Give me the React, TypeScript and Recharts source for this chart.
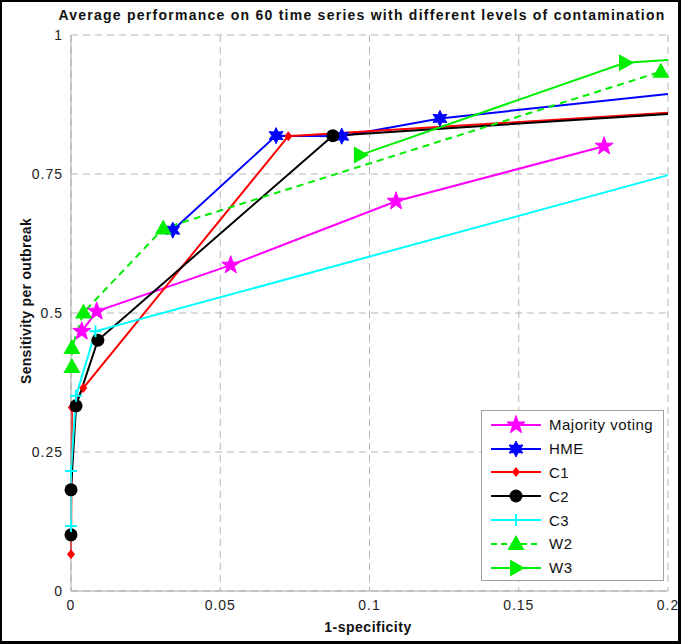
import React from 'react';
import { LineChart, Line, XAxis, YAxis, CartesianGrid } from 'recharts';

// axis ticks
const xTicks = [0, 0.05, 0.1, 0.15, 0.2];
const yTicks = [0, 0.25, 0.5, 0.75, 1];
const X_MAX = 0.2;

// ROC points (1-specificity, sensitivity)
const majorityVoting = [
  { x: 0.0036, y: 0.467 },
  { x: 0.0086, y: 0.503 },
  { x: 0.0535, y: 0.586 },
  { x: 0.1089, y: 0.701 },
  { x: 0.1786, y: 0.8 },
];
const hme = [
  { x: 0.0341, y: 0.649 },
  { x: 0.0687, y: 0.819 },
  { x: 0.0907, y: 0.818 },
  { x: 0.1236, y: 0.85 },
  { x: 0.2, y: 0.894 },
];
const c1 = [
  { x: 0, y: 0.066 },
  { x: 0.0003, y: 0.33 },
  { x: 0.0041, y: 0.365 },
  { x: 0.0728, y: 0.818 },
  { x: 0.2, y: 0.86 },
];
const c2 = [
  { x: 0, y: 0.101 },
  { x: 0, y: 0.182 },
  { x: 0.0017, y: 0.333 },
  { x: 0.009, y: 0.451 },
  { x: 0.0877, y: 0.819 },
  { x: 0.2, y: 0.858 },
];
const c3 = [
  { x: 0, y: 0.117 },
  { x: 0, y: 0.216 },
  { x: 0.0017, y: 0.351 },
  { x: 0.0082, y: 0.467 },
  { x: 0.2, y: 0.748 },
];
const w2 = [
  { x: 0.0003, y: 0.403 },
  { x: 0.0003, y: 0.437 },
  { x: 0.0042, y: 0.501 },
  { x: 0.0309, y: 0.652 },
  { x: 0.1976, y: 0.934 },
];
const w3 = [
  { x: 0.0968, y: 0.784 },
  { x: 0.1856, y: 0.95 },
  { x: 0.2, y: 0.955 },
];

type Shape = 'star' | 'hexagram' | 'diamond' | 'circle' | 'plus' | 'triUp' | 'triRight';

const series: { name: string; data: { x: number; y: number }[]; color: string; shape: Shape; dashed?: boolean }[] = [
  { name: 'Majority voting', data: majorityVoting, color: '#ff00ff', shape: 'star' },
  { name: 'HME', data: hme, color: '#0000ff', shape: 'hexagram' },
  { name: 'C1', data: c1, color: '#ff0000', shape: 'diamond' },
  { name: 'C2', data: c2, color: '#000000', shape: 'circle' },
  { name: 'C3', data: c3, color: '#00ffff', shape: 'plus' },
  { name: 'W2', data: w2, color: '#00ee00', shape: 'triUp', dashed: true },
  { name: 'W3', data: w3, color: '#00ee00', shape: 'triRight' },
];

const FONT = '"Liberation Sans", Arial, sans-serif';

function starPoints(cx: number, cy: number, n: number, ro: number, ri: number) {
  const pts: string[] = [];
  for (let i = 0; i < n * 2; i++) {
    const r = i % 2 === 0 ? ro : ri;
    const a = -Math.PI / 2 + (i * Math.PI) / n;
    pts.push(`${cx + r * Math.cos(a)},${cy + r * Math.sin(a)}`);
  }
  return pts.join(' ');
}

function Marker({ shape, cx, cy, color }: { shape: Shape; cx: number; cy: number; color: string }) {
  switch (shape) {
    case 'star':
      return <polygon points={starPoints(cx, cy, 5, 9.5, 3.8)} fill={color} stroke={color} strokeWidth={1} />;
    case 'hexagram':
      return <polygon points={starPoints(cx, cy, 6, 8, 4.2)} fill={color} stroke={color} strokeWidth={1} />;
    case 'diamond':
      return <polygon points={`${cx},${cy - 5} ${cx + 4},${cy} ${cx},${cy + 5} ${cx - 4},${cy}`} fill={color} />;
    case 'circle':
      return <circle cx={cx} cy={cy} r={6.5} fill={color} />;
    case 'plus':
      return <path d={`M${cx - 6},${cy}H${cx + 6}M${cx},${cy - 6}V${cy + 6}`} stroke={color} strokeWidth={2} />;
    case 'triUp':
      return <polygon points={`${cx},${cy - 9} ${cx + 8.5},${cy + 6} ${cx - 8.5},${cy + 6}`} fill={color} />;
    case 'triRight':
      return <polygon points={`${cx + 9},${cy} ${cx - 6},${cy - 8.5} ${cx - 6},${cy + 8.5}`} fill={color} />;
  }
  return null;
}

function XTick({ x, y, payload }: any) {
  return (
    <text x={x} y={y + 19} textAnchor="middle" fontFamily={FONT} fontSize={14} letterSpacing={1} fill="#222">
      {String(payload.value)}
    </text>
  );
}

function YTick({ x, y, payload }: any) {
  return (
    <text x={x} y={y + 5} textAnchor="end" fontFamily={FONT} fontSize={14} letterSpacing={1} fill="#222">
      {String(payload.value)}
    </text>
  );
}

function LegendBox() {
  return (
    <div
      style={{
        position: 'absolute',
        left: 481,
        top: 410,
        width: 183,
        height: 171,
        background: '#fff',
        border: '1px solid #a0a0a0',
        boxSizing: 'border-box',
        fontFamily: FONT,
        fontSize: 15,
        letterSpacing: 0.5,
        paddingTop: 2,
      }}
    >
      {series.map((s) => (
        <div key={s.name} style={{ display: 'flex', alignItems: 'center', height: 23.8 }}>
          <svg width={61} height={22} style={{ marginLeft: 6 }}>
            <line x1={3} x2={53} y1={11} y2={11} stroke={s.color} strokeWidth={2} strokeDasharray={s.dashed ? '6 4' : undefined} />
            <Marker shape={s.shape} cx={28} cy={11} color={s.color} />
          </svg>
          <span style={{ color: '#111' }}>{s.name}</span>
        </div>
      ))}
    </div>
  );
}

export default function App() {
  return (
    <div style={{ position: 'absolute', left: 0, top: 0, width: 681, height: 644, background: '#fff' }}>
      <LineChart width={681} height={644} margin={{ top: 35, right: 13, bottom: 0, left: 0 }}>
        <CartesianGrid stroke="#b4b4b4" strokeDasharray="7 5" horizontalValues={yTicks} verticalValues={xTicks} />
        <XAxis
          type="number"
          dataKey="x"
          domain={[0, X_MAX]}
          ticks={xTicks}
          height={53}
          stroke="#a8a8a8"
          tickLine={false}
          tickSize={0}
          tickMargin={0}
          tick={<XTick />}
        />
        <YAxis
          type="number"
          dataKey="y"
          domain={[0, 1]}
          ticks={yTicks}
          width={71}
          stroke="#a8a8a8"
          tickLine={false}
          tickSize={0}
          tickMargin={8}
          tick={<YTick />}
        />
        {series.map((s) => (
          <Line
            key={s.name}
            data={s.data}
            dataKey="y"
            name={s.name}
            type="linear"
            stroke={s.color}
            strokeWidth={2}
            strokeDasharray={s.dashed ? '7 5' : undefined}
            isAnimationActive={false}
            dot={(p: any) => (
              <g key={`${s.name}-${p.index}`}>
                {p.payload.x < X_MAX ? <Marker shape={s.shape} cx={p.cx} cy={p.cy} color={s.color} /> : null}
              </g>
            )}
            activeDot={false}
          />
        ))}
      </LineChart>
      <svg width={681} height={644} style={{ position: 'absolute', left: 0, top: 0, pointerEvents: 'none' }}>
        <text
          x={362}
          y={20}
          textAnchor="middle"
          fontFamily={FONT}
          fontWeight="bold"
          fontSize={14}
          letterSpacing={1.25}
          fill="#111"
        >
          Average performance on 60 time series with different levels of contamination
        </text>
        <text
          x={368}
          y={632}
          textAnchor="middle"
          fontFamily={FONT}
          fontWeight="bold"
          fontSize={14}
          letterSpacing={0.5}
          fill="#111"
        >
          1-specificity
        </text>
        <text
          x={31}
          y={301}
          textAnchor="middle"
          transform="rotate(-90 31 301)"
          fontFamily={FONT}
          fontWeight="bold"
          fontSize={14}
          letterSpacing={0.3}
          fill="#111"
        >
          Sensitivity per outbreak
        </text>
      </svg>
      <LegendBox />
      <div
        style={{
          position: 'absolute',
          left: 0,
          top: 0,
          width: 681,
          height: 644,
          borderStyle: 'solid',
          borderColor: '#000',
          borderWidth: '2px 3px 3px 2px',
          boxSizing: 'border-box',
          pointerEvents: 'none',
        }}
      />
    </div>
  );
}
